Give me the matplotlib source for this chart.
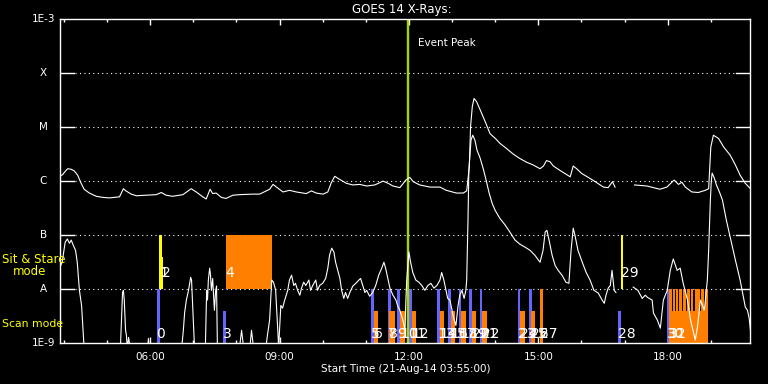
"""GOES 14 X-ray light curves with IRIS-style observation bars."""
import matplotlib
matplotlib.use("Agg")
import matplotlib.pyplot as plt
import numpy as np
from matplotlib.ticker import FixedLocator, FuncFormatter, MultipleLocator

# x in decimal hours of 21-Aug-14, flux as log10(W/m^2)
LONG_T = [3.92, 3.97, 4.05, 4.09, 4.17, 4.24, 4.32, 4.40, 4.47, 4.59, 4.75, 4.90,
          5.05, 5.29, 5.38, 5.44, 5.56, 5.68, 5.91, 6.14, 6.26, 6.37, 6.52, 6.76,
          6.95, 7.07, 7.22, 7.30, 7.39, 7.45, 7.53, 7.65, 7.76, 7.92, 8.07, 8.38,
          8.54, 8.77, 8.85, 8.93, 9.08, 9.23, 9.39, 9.62, 9.74, 9.85, 10.01, 10.12,
          10.20, 10.28, 10.40, 10.55, 10.70, 10.86, 11.02, 11.21, 11.40, 11.52,
          11.63, 11.79, 11.93, 12.02, 12.10, 12.25, 12.49, 12.72, 12.87, 13.10,
          13.26, 13.34, 13.40, 13.43, 13.47, 13.51, 13.57, 13.69, 13.80, 13.88,
          14.03, 14.11, 14.27, 14.42, 14.57, 14.73, 14.88, 15.04, 15.12, 15.19,
          15.27, 15.35, 15.50, 15.66, 15.74, 15.81, 15.89, 16.01, 16.20, 16.36,
          16.51, 16.62, 16.72, 16.78, 17.00, 17.23, 17.52, 17.67, 17.82, 17.98,
          18.15, 18.25, 18.33, 18.41, 18.56, 18.71, 18.87, 18.95, 19.00, 19.06,
          19.18, 19.30, 19.45, 19.57, 19.68, 19.80, 19.92]
LONG_LOG = [-5.90, -5.88, -5.80, -5.77, -5.78, -5.81, -5.89, -6.04, -6.15, -6.22,
            -6.28, -6.30, -6.31, -6.29, -6.14, -6.18, -6.24, -6.27, -6.26, -6.25,
            -6.21, -6.26, -6.28, -6.25, -6.14, -6.20, -6.29, -6.33, -6.15, -6.23,
            -6.22, -6.30, -6.32, -6.26, -6.25, -6.24, -6.24, -6.15, -6.06, -6.11,
            -6.20, -6.17, -6.20, -6.23, -6.18, -6.22, -6.24, -6.20, -6.03, -5.91,
            -5.97, -6.04, -6.07, -6.06, -6.09, -6.07, -6.00, -6.04, -6.09, -6.12,
            -5.98, -5.93, -6.01, -6.07, -6.11, -6.11, -6.17, -6.22, -6.22, -6.18,
            -5.74, -4.99, -4.62, -4.47, -4.53, -4.75, -4.96, -5.12, -5.23, -5.30,
            -5.40, -5.50, -5.58, -5.65, -5.70, -5.77, -5.72, -5.62, -5.64, -5.72,
            -5.80, -5.88, -5.92, -5.72, -5.77, -5.86, -5.95, -6.03, -6.11, -6.12,
            -6.01, -6.11, np.nan, -6.07, -6.09, -6.12, -6.15, -6.11, -5.98, -6.06,
            -6.02, -6.11, -6.20, -6.21, -6.17, -6.14, -5.37, -5.15, -5.21, -5.37,
            -5.52, -5.70, -5.89, -6.04, -6.14]

SHORT_T = [3.92, 3.96, 4.03, 4.08, 4.13, 4.17, 4.22, 4.27, 4.31, 4.34, 4.36, 4.41,
           4.43, 4.45, 4.47, 5.31, 5.36, 5.38, 5.40, 5.43, 5.45, 5.47, 5.50, 5.54,
           5.94, 5.96, 5.98, 6.73, 6.77, 6.80, 6.84, 6.89, 6.94, 6.96, 6.98, 7.01,
           7.03, 7.28, 7.31, 7.33, 7.35, 7.38, 7.40, 7.42, 7.45, 7.47, 7.49, 7.52,
           7.54, 7.56, 8.07, 8.12, 8.17, 8.31, 8.35, 8.40, 8.68, 8.72, 8.77, 8.82,
           8.86, 8.91, 8.96, 8.98, 9.00, 9.03, 9.07, 9.12, 9.19, 9.23, 9.28, 9.33,
           9.37, 9.42, 9.47, 9.51, 9.56, 9.61, 9.68, 9.72, 9.77, 9.84, 9.88, 9.93,
           10.00, 10.07, 10.12, 10.16, 10.21, 10.26, 10.30, 10.35, 10.40, 10.44,
           10.49, 10.53, 10.58, 10.63, 10.70, 10.77, 10.84, 10.88, 10.93, 10.98,
           11.02, 11.09, 11.16, 11.23, 11.30, 11.37, 11.42, 11.46, 11.51, 11.56,
           11.63, 11.70, 11.74, 11.79, 11.86, 11.91, 11.93, 11.95, 11.98, 12.00,
           12.04, 12.09, 12.16, 12.23, 12.30, 12.37, 12.44, 12.51, 12.58, 12.65,
           12.72, 12.76, 12.81, 12.86, 12.90, 12.95, 13.00, 13.04, 13.09, 13.14,
           13.18, 13.23, 13.28, 13.32, 13.34, 13.37, 13.39, 13.44, 13.48, 13.53,
           13.58, 13.65, 13.72, 13.79, 13.86, 13.93, 14.00, 14.11, 14.23, 14.34,
           14.46, 14.58, 14.69, 14.81, 14.92, 15.04, 15.11, 15.16, 15.20, 15.25,
           15.32, 15.39, 15.46, 15.55, 15.64, 15.71, 15.76, 15.81, 15.85, 15.92,
           16.02, 16.11, 16.20, 16.29, 16.39, 16.48, 16.53, 16.57, 16.62, 16.67,
           16.71, 16.76, 16.80, 17.00, 17.20, 17.31, 17.41, 17.48, 17.53, 17.64,
           17.67, 17.76, 17.83, 17.90, 17.99, 18.06, 18.13, 18.22, 18.29, 18.36,
           18.46, 18.53, 18.64, 18.69, 18.76, 18.85, 18.92, 18.95, 18.99, 19.01,
           19.03, 19.08, 19.13, 19.20, 19.27, 19.36, 19.45, 19.57, 19.68, 19.80,
           19.85, 19.89, 19.92]
SHORT_LOG = [-7.57, -7.50, -7.13, -7.07, -7.15, -7.09, -7.19, -7.28, -7.50, -7.80,
             -8.02, -8.30, -8.57, -8.85, -9.10, -9.10, -8.06, -8.02, -8.20, -8.76,
             -8.85, -9.10, -8.89, -9.10, -9.10, -8.91, -9.10, -9.10, -8.76, -8.43,
             -8.20, -8.02, -7.78, -7.83, -8.20, -8.76, -9.10, -9.10, -8.02, -8.20,
             -7.83, -7.61, -7.74, -8.02, -7.80, -8.11, -8.39, -8.02, -7.94, -9.10,
             -9.10, -8.76, -9.10, -9.10, -8.76, -9.10, -9.10, -8.85, -8.57, -7.83,
             -7.87, -8.02, -8.76, -9.10, -8.76, -8.30, -8.35, -8.20, -8.02, -7.83,
             -7.74, -7.93, -7.89, -8.02, -8.11, -7.98, -7.87, -7.93, -7.83, -8.02,
             -7.93, -7.83, -8.02, -7.93, -7.89, -7.80, -7.61, -7.37, -7.24, -7.31,
             -7.50, -7.65, -7.80, -8.02, -8.17, -8.06, -8.17, -8.06, -7.94, -7.89,
             -7.83, -7.80, -7.93, -8.06, -8.02, -8.13, -8.06, -7.93, -7.74, -7.61,
             -7.50, -7.61, -7.80, -7.98, -8.11, -8.20, -8.31, -8.39, -8.57, -8.76,
             -8.20, -7.83, -7.50, -7.31, -7.50, -7.69, -7.83, -7.87, -7.93, -8.02,
             -7.93, -7.89, -7.98, -7.93, -7.83, -7.69, -7.83, -8.02, -8.17, -8.20,
             -8.39, -8.54, -8.67, -8.30, -8.11, -8.02, -8.17, -8.02, -7.83, -6.72,
             -5.80, -5.24, -5.15, -5.24, -5.43, -5.57, -5.76, -5.98, -6.22, -6.41,
             -6.54, -6.69, -6.81, -6.94, -7.09, -7.17, -7.22, -7.28, -7.37, -7.50,
             -7.28, -6.94, -6.91, -7.09, -7.37, -7.56, -7.65, -7.74, -7.87, -7.89,
             -7.28, -6.87, -7.00, -7.28, -7.50, -7.69, -7.83, -8.02, -8.07, -8.20,
             -8.26, -8.11, -7.98, -7.93, -7.65, -8.02, -8.06, np.nan, -7.96, -8.02,
             -8.17, -8.11, -8.15, -8.20, -8.44, -8.57, -8.72, -8.20, -8.02, -7.65,
             -7.44, -7.65, -7.61, -7.89, -8.20, -8.57, -8.94, -8.70, -8.20, -8.39,
             -7.83, -7.28, -6.35, -6.02, -5.85, -5.94, -6.07, -6.20, -6.35, -6.72,
             -7.04, -7.46, -7.83, -8.33, -8.39, -8.54, -8.76]

# observations: start/end (HH:MM), mode, colour, full height or not
OBS_START = ["06:09", "06:13", "06:16", "07:41", "07:45", "11:07", "11:11",
             "11:31", "11:33", "11:44", "11:48", "12:00", "12:04", "12:39",
             "12:43", "12:55", "12:58", "13:09", "13:12", "13:24", "13:28",
             "13:39", "13:42", "14:32", "14:34", "14:47", "14:50", "15:02",
             "16:51", "16:55", "17:59", "18:02"]
OBS_END = ["06:14", "06:16", "06:18", "07:46", "08:49", "11:11", "11:17",
           "11:35", "11:40", "11:48", "11:55", "12:04", "12:10", "12:43",
           "12:49", "12:58", "13:04", "13:13", "13:19", "13:28", "13:34",
           "13:42", "13:49", "14:35", "14:41", "14:51", "14:56", "15:06",
           "16:55", "16:58", "18:02", "18:55"]
OBS_MODE = ["scan", "sit", "sit", "scan", "sit"] + ["scan"] * 24 + ["sit", "scan", "scan"]
OBS_COLOR = ["blue", "yellow", "yellow", "blue", "orange",
             "blue", "orange", "blue", "orange", "blue", "orange", "blue", "orange",
             "blue", "orange", "blue", "orange", "blue", "orange", "blue", "orange",
             "blue", "orange", "blue", "orange", "blue", "orange", "orange",
             "blue", "yellow", "blue", "orange"]
OBS_TALL = [True, True, False, False, True,
            True, False, True, False, True, False, True, False,
            True, False, True, False, True, False, True, False,
            True, False, True, False, True, False, True,
            False, True, True, False]
# observation 32: series of rasters
RASTER_START = ["18:02", "18:07", "18:11", "18:16", "18:22", "18:27", "18:32",
                "18:38", "18:42", "18:47", "18:52"]
RASTER_MIN = 3.5

EVENT_PEAK = "11:59"
T0, T1 = "03:55", "19:55"
LEVELS = [-9, -8, -7, -6, -5, -4, -3]
LEVEL_NAMES = ["1E-9", "A", "B", "C", "M", "X", "1E-3"]

COLORS = {"blue": "#6464ff", "orange": "#ff8000", "yellow": "#ffff00"}


def hours(s):
    h, m = s.split(":")
    return int(h) + int(m) / 60.0


def main():
    plt.rcParams["font.family"] = ["DejaVu Sans"]
    fig = plt.figure(figsize=(7.68, 3.84), dpi=100, facecolor="black")
    ax = fig.add_axes([0.0785, 0.106, 0.8985, 0.8445], facecolor="black")
    ax.set_yscale("log")
    ax.set_xlim(hours(T0), hours(T1))
    ax.set_ylim(1e-9, 1e-3)

    # observation bars
    for i, (s, e, mode, col, tall) in enumerate(
            zip(OBS_START, OBS_END, OBS_MODE, OBS_COLOR, OBS_TALL)):
        lo = 1e-9 if mode == "scan" else 1e-8
        hi = lo * (10 if tall else 4)
        ax.bar(hours(s), hi - lo, bottom=lo, width=hours(e) - hours(s),
               align="edge", color=COLORS[col], linewidth=0, zorder=2)
    for s in RASTER_START:
        ax.bar(hours(s), 1e-8 - 1e-9, bottom=1e-9, width=RASTER_MIN / 60,
               align="edge", color=COLORS["orange"], linewidth=0, zorder=2)

    # grid / level ticks
    for lv in LEVELS[1:-1]:
        ax.axhline(10.0 ** lv, 0.0215, 0.9785, color="white", lw=0.8,
                   ls=(0, (1, 3)), zorder=1)
        ax.axhline(10.0 ** lv, 0, 0.0205, color="white", lw=1.0, zorder=3)
        ax.axhline(10.0 ** lv, 0.9795, 1, color="white", lw=1.0, zorder=3)

    # light curves
    ax.plot(LONG_T, 10.0 ** np.array(LONG_LOG), color="white", lw=0.8, zorder=4)
    ax.plot(SHORT_T, 10.0 ** np.array(SHORT_LOG), color="white", lw=0.8, zorder=4)

    # labels for observations
    for i, (s, mode) in enumerate(zip(OBS_START, OBS_MODE)):
        y = 1.24e-9 if mode == "scan" else 1.67e-8
        ax.text(hours(s), y, str(i), color="white", fontsize=10,
                ha="left", va="baseline", zorder=5)
    ax.text(hours(RASTER_START[0]), 1.24e-9, str(len(OBS_START)), color="white",
            fontsize=10, ha="left", va="baseline", zorder=5)

    # event peak
    tp = hours(EVENT_PEAK)
    ax.axvline(tp, color="#a8d400", lw=1.7, zorder=3)
    ax.text(tp + 0.22, 10 ** -3.45, "Event Peak", color="white", fontsize=7.5,
            va="center", ha="left")

    # axes styling
    for sp in ax.spines.values():
        sp.set_color("white")
        sp.set_linewidth(1.0)
        sp.set_zorder(6)
    ax.xaxis.set_major_locator(MultipleLocator(3))
    ax.xaxis.set_minor_locator(MultipleLocator(1))
    ax.xaxis.set_major_formatter(FuncFormatter(lambda v, p: f"{int(round(v)):02d}:00"))
    ax.tick_params(axis="x", which="both", direction="in", top=True, bottom=True,
                   colors="white", labelsize=7.5, pad=6)
    ax.tick_params(axis="x", which="major", length=4.5, width=1)
    ax.tick_params(axis="x", which="minor", length=2.5, width=1)
    ax.yaxis.set_major_locator(FixedLocator([10.0 ** lv for lv in LEVELS]))
    ax.yaxis.set_minor_locator(FixedLocator([]))
    ax.tick_params(axis="y", which="both", length=0, labelleft=False)
    for lv, name in zip(LEVELS, LEVEL_NAMES):
        ax.text(-0.0245, 10.0 ** lv, name, transform=ax.get_yaxis_transform(),
                color="white", fontsize=7.5, ha="center", va="center")

    ax.set_xlabel("Start Time (21-Aug-14 03:55:00)", color="white", fontsize=7.5,
                  labelpad=2)
    fig.text(0.5235, 0.974, "GOES 14 X-Rays:", color="white", fontsize=8.5,
             ha="center", va="center")

    fig.text(0.003, 0.3255, "Sit & Stare", color="yellow", fontsize=8.5, va="center")
    fig.text(0.0165, 0.294, "mode", color="yellow", fontsize=8.5, va="center")
    fig.text(0.003, 0.156, "Scan mode", color="yellow", fontsize=7.8, va="center")

    fig.savefig("out.png", dpi=100, facecolor="black")
    plt.close(fig)


if __name__ == "__main__":
    main()
